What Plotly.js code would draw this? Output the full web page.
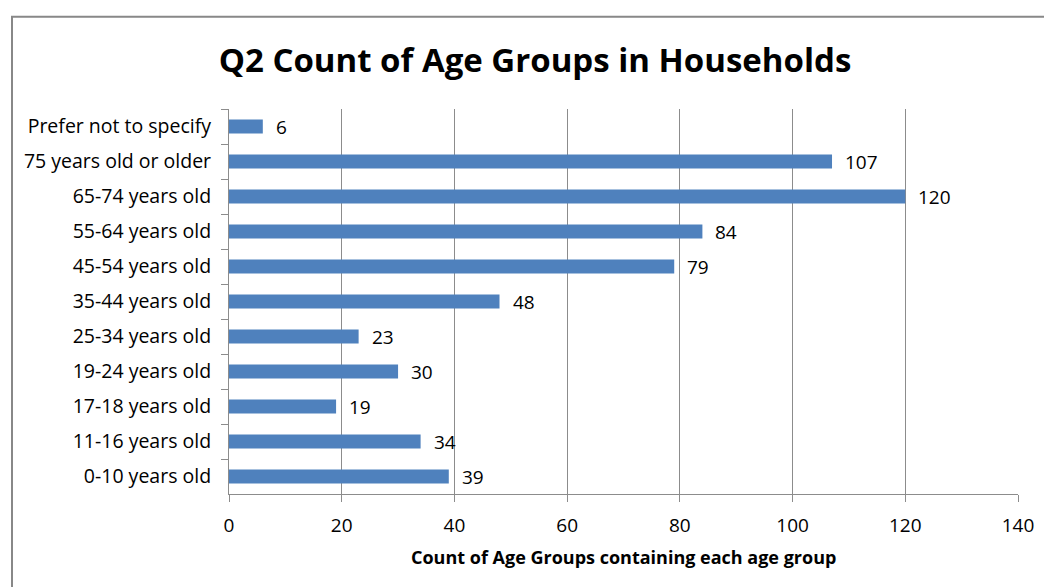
<!DOCTYPE html>
<html><head><meta charset="utf-8">
<script src="https://cdn.plot.ly/plotly-3.0.1.min.js"></script>
<style>html,body{margin:0;padding:0;background:#fff}#chart{width:1044px;height:587px}</style>
</head><body><div id="chart"></div>
<script>
const categories = ["Prefer not to specify","75 years old or older","65-74 years old","55-64 years old","45-54 years old","35-44 years old","25-34 years old","19-24 years old","17-18 years old","11-16 years old","0-10 years old"];
const counts = [6,107,120,84,79,48,23,30,19,34,39];
const xTicks = [0,20,40,60,80,100,120,140];

const FONT = "'Open Sans', Lato, sans-serif";
const L = 229, R = 26, T = 108.5, B = 92.5, W = 1044, H = 587;
const pw = W - L - R, ph = H - T - B;

const trace = {
  type: "bar", orientation: "h",
  x: counts, y: categories,
  marker: {color: "#4F81BD"},
  width: 0.4,
  hoverinfo: "x+y"
};

const annotations = counts.map((v, i) => ({
  x: v, y: categories[i], xref: "x", yref: "y",
  text: String(v), showarrow: false, xanchor: "left", xshift: 11,
  font: {family: FONT, size: 19, color: "#000"}
}));
annotations.push({
  xref: "paper", yref: "paper", x: 0.5, y: -(544 - (T+ph)) / ph,
  text: "<b>Count of Age Groups containing each age group</b>", showarrow: false,
  xanchor: "center", yanchor: "top", font: {family: FONT, size: 18, color: "#000"}
});

const layout = {
  width: W, height: H,
  margin: {l: L, r: R, t: T, b: B},
  paper_bgcolor: "#fff", plot_bgcolor: "#fff",
  showlegend: false,
  title: {text: "<b>Q2 Count of Age Groups in Households</b>", x: 535/W, xref: "container", xanchor: "center", y: 1 - 60/H, yanchor: "middle",
          font: {family: FONT, size: 33, color: "#000"}},
  xaxis: {
    range: [0, 140], tickvals: xTicks, ticktext: xTicks.map(String),
    showgrid: true, gridcolor: "#8c8c8c", gridwidth: 1, zeroline: false,
    showline: true, linecolor: "#8c8c8c", linewidth: 1,
    ticks: "outside", ticklen: 7, tickcolor: "#8c8c8c", ticklabelstandoff: 7,
    tickfont: {family: FONT, size: 19, color: "#000"}, fixedrange: true
  },
  yaxis: {
    type: "category", autorange: "reversed",
    showgrid: false, zeroline: false,
    showline: true, linecolor: "#8c8c8c", linewidth: 1,
    ticks: "outside", ticklen: 7, tickcolor: "#8c8c8c", tickson: "boundaries", ticklabelstandoff: 13,
    tickfont: {family: FONT, size: 19.5, color: "#000"}, fixedrange: true
  },
  annotations: annotations,
  shapes: [{
    type: "rect", xref: "paper", yref: "paper", layer: "below",
    x0: (12 - L) / pw, x1: (W + 5 - L) / pw,
    y0: -(H + 5 - T - ph) / ph, y1: 1 + (T - 16) / ph,
    line: {color: "#888888", width: 2}
  }]
};

Plotly.newPlot("chart", [trace], layout, {displayModeBar: false, staticPlot: true});
</script></body></html>
